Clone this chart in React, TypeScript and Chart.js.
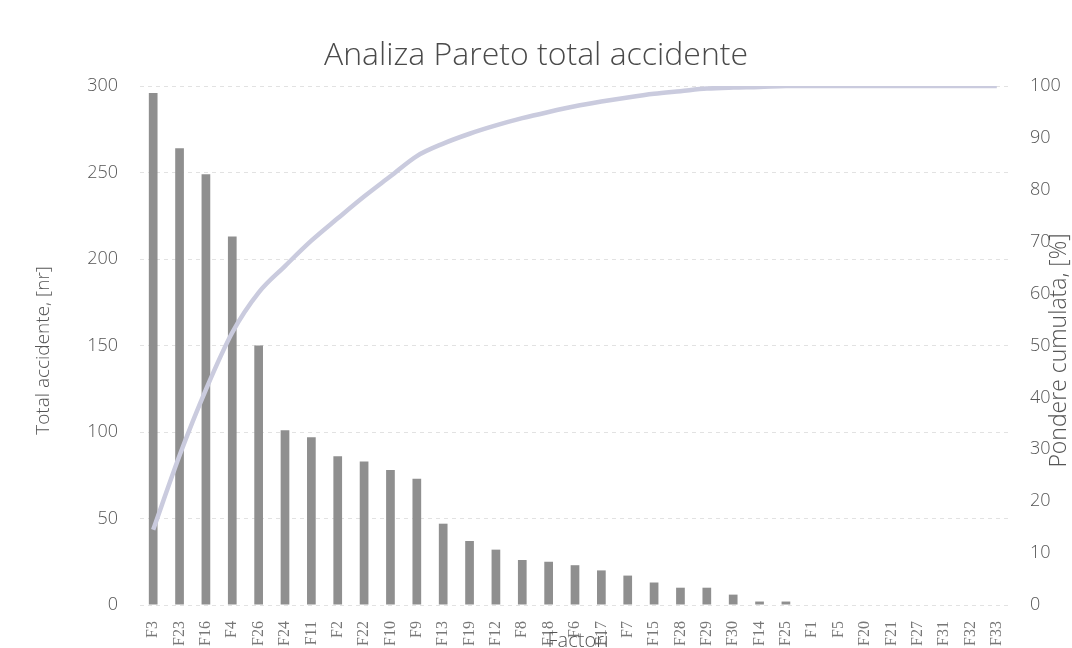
import React, { useEffect, useRef } from "react";
import { Chart, registerables } from "chart.js";

Chart.register(...registerables);

const categories = [
  "F3", "F23", "F16", "F4", "F26", "F24", "F11", "F2", "F22", "F10", "F9",
  "F13", "F19", "F12", "F8", "F18", "F6", "F17", "F7", "F15", "F28", "F29",
  "F30", "F14", "F25", "F1", "F5", "F20", "F21", "F27", "F31", "F32", "F33",
];

const accidentCounts = [
  296, 264, 249, 213, 150, 101, 97, 86, 83, 78, 73,
  47, 37, 32, 26, 25, 23, 20, 17, 13, 10, 10,
  6, 2, 2, 0, 0, 0, 0, 0, 0, 0, 0,
];

const cumulativePercent = [
  14.5, 28.8, 41.5, 52.5, 60.2, 65.3, 70.2, 74.5, 78.7, 82.6, 86.5,
  88.9, 90.8, 92.4, 93.8, 95.0, 96.1, 97.0, 97.8, 98.5, 99.0, 99.5,
  99.7, 99.8, 100, 100, 100, 100, 100, 100, 100, 100, 100,
];

const chartTitle = "Analiza Pareto total accidente";
const leftAxisTitle = "Total accidente, [nr]";
const rightAxisTitle = "Pondere cumulata, [%]";
const xAxisTitle = "Factori";

const textPlugin = {
  id: "paretoTexts",
  afterDraw(chart: any) {
    const { ctx, chartArea } = chart;
    const midY = (chartArea.top + chartArea.bottom) / 2;
    const midX = (chartArea.left + chartArea.right) / 2;
    ctx.save();
    ctx.textAlign = "center";
    ctx.textBaseline = "middle";

    ctx.fillStyle = "#4a4a4a";
    ctx.font = '300 32px "Open Sans"';
    ctx.fillText(chartTitle, 536, 56);

    ctx.fillStyle = "#555555";
    ctx.font = '300 19px "Open Sans"';
    ctx.save();
    ctx.translate(44, midY + 5);
    ctx.rotate(-Math.PI / 2);
    ctx.fillText(leftAxisTitle, 0, 0);
    ctx.restore();

    ctx.font = '300 23px "Open Sans"';
    ctx.save();
    ctx.translate(1059, midY + 5);
    ctx.rotate(-Math.PI / 2);
    ctx.fillText(rightAxisTitle, 0, 0);
    ctx.restore();

    ctx.font = '300 20px "Open Sans"';
    ctx.textBaseline = "alphabetic";
    ctx.fillText(xAxisTitle, midX + 3, 647);
    ctx.restore();
  },
};

export default function App() {
  const canvasRef = useRef<HTMLCanvasElement | null>(null);

  useEffect(() => {
    if (!canvasRef.current) return;
    const chart = new Chart(canvasRef.current, {
      type: "bar",
      data: {
        labels: categories,
        datasets: [
          {
            type: "line",
            label: "Pondere cumulata",
            data: cumulativePercent,
            yAxisID: "y1",
            borderColor: "#cacbde",
            borderWidth: 4.5,
            pointRadius: 0,
            tension: 0.4,
            cubicInterpolationMode: "monotone",
            order: 0,
          } as any,
          {
            type: "bar",
            label: "Total accidente",
            data: accidentCounts,
            yAxisID: "y",
            backgroundColor: "#8f8f8f",
            barPercentage: 0.33,
            categoryPercentage: 1,
            order: 1,
          },
        ],
      },
      options: {
        animation: false,
        responsive: true,
        maintainAspectRatio: false,
        layout: { padding: { top: 86, left: 0, right: 0, bottom: 0 } },
        plugins: {
          legend: { display: false },
          tooltip: { enabled: false },
        },
        scales: {
          x: {
            offset: true,
            grid: { display: false },
            border: { display: false },
            ticks: {
              autoSkip: false,
              maxRotation: 90,
              minRotation: 90,
              padding: 8,
              color: "#777777",
              font: { family: '"Liberation Serif"', size: 16 },
            },
            afterFit: (s: any) => {
              s.height = 43;
            },
          },
          y: {
            position: "left",
            min: 0,
            max: 300,
            ticks: {
              stepSize: 50,
              padding: 22,
              color: "#555555",
              font: { family: '"Open Sans"', size: 18, weight: 300 },
            },
            grid: { color: "#e2e2e2", drawTicks: false },
            border: { display: false, dash: [4, 4] },
            afterFit: (s: any) => {
              s.width = 140;
            },
          },
          y1: {
            position: "right",
            min: 0,
            max: 100,
            ticks: {
              stepSize: 10,
              padding: 20,
              color: "#555555",
              font: { family: '"Open Sans"', size: 18, weight: 300 },
            },
            grid: { display: false, drawTicks: false },
            border: { display: false },
            afterFit: (s: any) => {
              s.width = 62;
            },
          },
        },
      } as any,
      plugins: [textPlugin],
    });
    return () => chart.destroy();
  }, []);

  return (
    <div style={{ position: "fixed", left: 0, top: 0, width: 1072, height: 648, background: "#ffffff" }}>
      <canvas ref={canvasRef} />
    </div>
  );
}
